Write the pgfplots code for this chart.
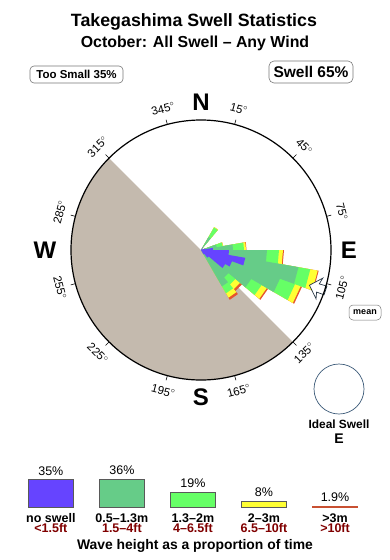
\documentclass[border=0pt]{standalone}
\usepackage{pgfplots}
\pgfplotsset{compat=1.18}
\usepgfplotslibrary{polar}
\usepackage{fontspec}
\setmainfont{Liberation Sans}
\definecolor{cblue}{RGB}{102,68,255}
\definecolor{cteal}{RGB}{102,204,136}
\definecolor{cgreen}{RGB}{102,255,102}
\definecolor{cyellow}{RGB}{255,255,51}
\definecolor{corange}{RGB}{230,85,45}
\definecolor{cland}{RGB}{196,186,174}
\definecolor{cdred}{RGB}{128,0,0}
\definecolor{cframe}{RGB}{120,120,120}
\tikzset{tl/.style={font=\fontsize{11.5}{12}\selectfont},
  card/.style={font=\fontsize{24}{24}\selectfont\bfseries},
  pct/.style={anchor=base, yshift=4.5pt, font=\fontsize{12.5}{13}\selectfont},
  cat/.style={anchor=base, yshift=-14.5pt, font=\fontsize{12.5}{13}\selectfont\bfseries},
  ft/.style={anchor=base, yshift=-25pt, text=cdred, font=\fontsize{12.5}{13}\selectfont\bfseries}}
\begin{document}
\begin{tikzpicture}[x=1pt,y=1pt]
\useasboundingbox (0pt,0pt) rectangle (390pt,-560pt);
% titles
\node[anchor=base, font=\fontsize{17.8}{20}\selectfont\bfseries] at (194pt,-26.5pt) {Takegashima Swell Statistics};
\node[anchor=base, font=\fontsize{15.9}{18}\selectfont\bfseries] at (195pt,-47.5pt) {October: All Swell – Any Wind};
\node[draw=cframe, rounded corners=4pt, line width=0.6pt, minimum width=93pt, minimum height=17pt, inner sep=0pt, font=\fontsize{11.5}{12}\selectfont\bfseries] at (76.5pt,-74.5pt) {Too Small 35\%};
\node[draw=cframe, rounded corners=5pt, line width=0.6pt, minimum width=84pt, minimum height=22pt, inner sep=0pt, font=\fontsize{15.5}{16}\selectfont\bfseries] at (311pt,-72pt) {Swell 65\%};
\node[draw=cframe, rounded corners=4pt, line width=0.5pt, minimum width=32pt, minimum height=15pt, inner sep=0pt, font=\fontsize{9}{10}\selectfont\bfseries] at (365pt,-312.5pt) {mean};
% ideal swell
\draw[color={rgb,255:red,60;green,90;blue,120}, line width=0.7pt] (339pt,-389pt) circle[radius=25pt];
\node[anchor=base, font=\fontsize{11.9}{13}\selectfont\bfseries] at (339pt,-428pt) {Ideal Swell};
\node[anchor=base, font=\fontsize{14}{15}\selectfont\bfseries] at (339pt,-443.5pt) {E};

\begin{polaraxis}[at={(201pt,-250pt)}, anchor=origin, scale only axis, width=260pt, height=260pt,
  xmin=0, xmax=360, ymin=0, ymax=130, xtick=\empty, ytick=\empty, grid=none,
  clip=false, axis on top, x axis line style={line width=1.2pt, black}, y axis line style={draw=none}]
% land (bearing 135 -> 315 through S and W)
\addplot[draw=none, fill=cland] coordinates {(0,0) (315,130) (310,130) (305,130) (300,130) (295,130) (290,130) (285,130) (280,130) (275,130) (270,130) (265,130) (260,130) (255,130) (250,130) (245,130) (240,130) (235,130) (230,130) (225,130) (220,130) (215,130) (210,130) (205,130) (200,130) (195,130) (190,130) (185,130) (180,130) (175,130) (170,130) (165,130) (160,130) (155,130) (150,130) (145,130) (140,130) (135,130)} -- cycle;
% swell rose: bins at bearings 35,75,85,...,145 (polar angle = 90 - bearing), cumulative radii
% >3m
\addplot[draw=none, fill=corange] coordinates {(60,0) (60,26.5) (50,26.5) (50,0) (20,0) (20,22.5) (10,22.5) (10,45.5) (0,45.5) (0,83) (350,83) (350,119.5) (340,119.5) (340,107.5) (330,107.5) (330,77.5) (320,77.5) (320,53.5) (310,53.5) (310,57.5) (300,57.5) (300,0)} -- cycle;
% 2-3m
\addplot[draw=none, fill=cyellow] coordinates {(60,0) (60,26.5) (50,26.5) (50,0) (20,0) (20,22.5) (10,22.5) (10,45) (0,45) (0,82) (350,82) (350,118.5) (340,118.5) (340,106) (330,106) (330,76) (320,76) (320,51) (310,51) (310,55) (300,55) (300,0)} -- cycle;
% 1.3-2m
\addplot[draw=none, fill=cgreen] coordinates {(60,0) (60,26) (50,26) (50,0) (20,0) (20,22) (10,22) (10,43) (0,43) (0,78) (350,78) (350,111) (340,111) (340,100) (330,100) (330,70) (320,70) (320,45) (310,45) (310,50) (300,50) (300,0)} -- cycle;
% 0.5-1.3m
\addplot[draw=none, fill=cteal] coordinates {(60,0) (60,15) (50,15) (50,0) (20,0) (20,16) (10,16) (10,32) (0,32) (0,66) (350,66) (350,99) (340,99) (340,84) (330,84) (330,58) (320,58) (320,36) (310,36) (310,42) (300,42) (300,0)} -- cycle;
% no swell
\addplot[draw=none, fill=cblue] coordinates {(60,0) (60,3) (50,3) (50,0) (20,0) (20,4) (10,4) (10,12) (0,12) (0,28) (350,28) (350,45) (340,45) (340,33) (330,33) (330,28) (320,28) (320,10) (310,10) (310,5) (300,5) (300,0)} -- cycle;
% mean direction arrow (bearing 108)
\addplot[fill=white, draw={rgb,255:red,40;green,55;blue,70}, line width=0.7pt] coordinates {(342,114) (347,125) (344,123) (344,131) (340,131) (340,123) (337,125)} -- cycle;
% ticks
\pgfplotsinvokeforeach{15,45,75,105,135,165,195,225,255,285,315,345}{\draw[line width=0.6pt] (axis cs:#1,130) -- (axis cs:#1,135);}
% tick labels (bearing)
\node[tl, rotate=-15] at (axis cs:75,146) {15$^{\circ}$};
\node[tl, rotate=-45] at (axis cs:45,146) {45$^{\circ}$};
\node[tl, rotate=-75] at (axis cs:15,146) {75$^{\circ}$};
\node[tl, rotate=75] at (axis cs:345,146) {105$^{\circ}$};
\node[tl, rotate=45] at (axis cs:315,146) {135$^{\circ}$};
\node[tl, rotate=15] at (axis cs:285,146) {165$^{\circ}$};
\node[tl, rotate=-15] at (axis cs:255,146) {195$^{\circ}$};
\node[tl, rotate=-45] at (axis cs:225,146) {225$^{\circ}$};
\node[tl, rotate=-75] at (axis cs:195,146) {255$^{\circ}$};
\node[tl, rotate=75] at (axis cs:165,146) {285$^{\circ}$};
\node[tl, rotate=45] at (axis cs:135,146) {315$^{\circ}$};
\node[tl, rotate=15] at (axis cs:105,146) {345$^{\circ}$};
\node[card] at (axis cs:90,148) {N};
\node[card] at (axis cs:0,148) {E};
\node[card] at (axis cs:270,147) {S};
\node[card] at (axis cs:180,156) {W};
\end{polaraxis}

% legend bars
\begin{axis}[at={(15.3pt,-507.5pt)}, anchor=south west, scale only axis, width=355.25pt, height=32pt,
  xmin=-0.5, xmax=4.5, ymin=0, ymax=40, hide axis, clip=false]
\addplot[ybar, bar width=45pt, fill=cblue, draw=black!65] coordinates {(0,35)};
\addplot[ybar, bar width=45pt, fill=cteal, draw=black!65] coordinates {(1,36)};
\addplot[ybar, bar width=45pt, fill=cgreen, draw=black!65] coordinates {(2,19)};
\addplot[ybar, bar width=45pt, fill=cyellow, draw=black!65] coordinates {(3,8)};
\addplot[ybar, bar width=45pt, fill=corange, draw={rgb,255:red,200;green,80;blue,50}] coordinates {(4,1.9)};
\node[pct] at (axis cs:0,35) {35\%};
\node[pct] at (axis cs:1,36) {36\%};
\node[pct] at (axis cs:2,19) {19\%};
\node[pct] at (axis cs:3,8) {8\%};
\node[pct] at (axis cs:4,1.9) {1.9\%};
\node[cat] at (axis cs:0,0) {no swell};
\node[cat] at (axis cs:1,0) {0.5–1.3m};
\node[cat] at (axis cs:2,0) {1.3–2m};
\node[cat] at (axis cs:3,0) {2–3m};
\node[cat] at (axis cs:4,0) {>3m};
\node[ft] at (axis cs:0,0) {<1.5ft};
\node[ft] at (axis cs:1,0) {1.5–4ft};
\node[ft] at (axis cs:2,0) {4–6.5ft};
\node[ft] at (axis cs:3,0) {6.5–10ft};
\node[ft] at (axis cs:4,0) {>10ft};
\end{axis}
\node[anchor=base, font=\fontsize{13.9}{15}\selectfont\bfseries] at (195pt,-549pt) {Wave height as a proportion of time};
\end{tikzpicture}
\end{document}
